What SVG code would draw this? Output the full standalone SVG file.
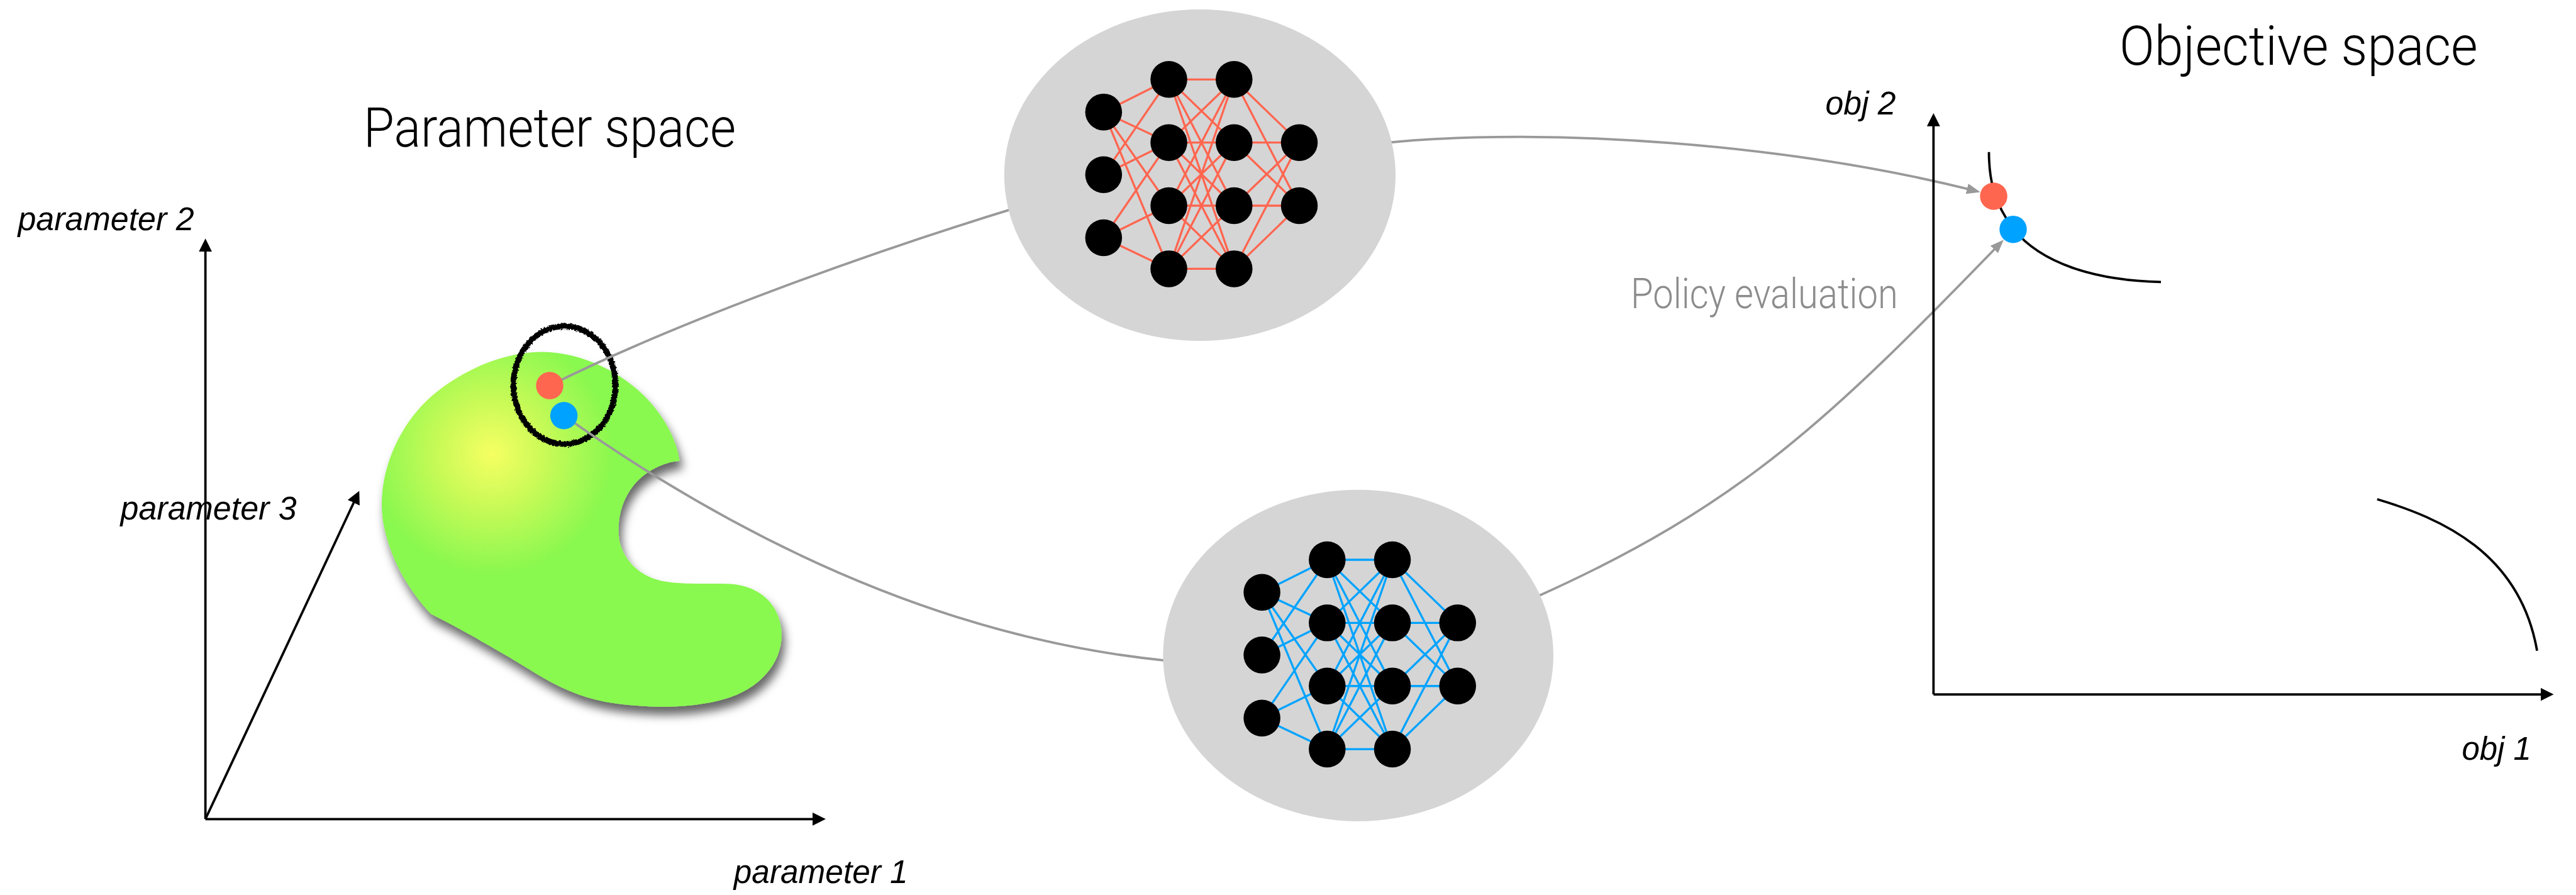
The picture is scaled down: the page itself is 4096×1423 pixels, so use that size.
<svg xmlns="http://www.w3.org/2000/svg" width="4096" height="1423" viewBox="0 0 4096 1423">
<style>
  .axis{fill:none;stroke:#000;stroke-width:4.5}
  .link{fill:none;stroke:#999;stroke-width:4.5}
  .pareto{fill:none;stroke:#000;stroke-width:4.5}
  .label{font-family:"Liberation Sans",Arial,sans-serif;font-style:italic;font-size:62px;fill:#000}
  .title{font-family:Roboto,"Liberation Sans",sans-serif;font-weight:300;font-size:104px;fill:#000}
  .note{font-family:Roboto,"Liberation Sans",sans-serif;font-weight:300;font-size:80px;fill:#8c8c8c}
  .pod{fill:#D5D5D5}
  .neuron{fill:#000;stroke:none}
  .wires{fill:none;stroke-width:4}
  .red{fill:#FF6650}
  .blue{fill:#00A2FF}
</style>
<defs>
  <marker id="head" viewBox="0 0 25 25" markerWidth="25" markerHeight="25" refX="5" refY="12.5" orient="auto" markerUnits="userSpaceOnUse">
    <path d="M0 0L25 12.5L0 25z" fill="#000"/>
  </marker>
  <marker id="ghead" viewBox="0 0 26 20" markerWidth="26" markerHeight="20" refX="13" refY="10" orient="auto" markerUnits="userSpaceOnUse">
    <path d="M0 0L26 10L0 20z" fill="#999"/>
  </marker>
  <radialGradient id="glow" gradientUnits="userSpaceOnUse" cx="935" cy="862" r="230">
    <stop offset="0" stop-color="#F6FF62"/>
    <stop offset="0.45" stop-color="#C8FA57"/>
    <stop offset="1" stop-color="#89F84F"/>
  </radialGradient>
  <filter id="lift" x="-15%" y="-15%" width="135%" height="140%">
    <feGaussianBlur in="SourceAlpha" stdDeviation="9"/>
    <feOffset dx="6" dy="16" result="blur"/>
    <feFlood flood-color="#000" flood-opacity="0.6"/>
    <feComposite in2="blur" operator="in" result="shade"/>
    <feMerge><feMergeNode in="shade"/><feMergeNode in="SourceGraphic"/></feMerge>
  </filter>
  <filter id="rough" x="-20%" y="-20%" width="140%" height="140%">
    <feTurbulence type="fractalNoise" baseFrequency="0.3" numOctaves="2" seed="3" result="noise"/>
    <feDisplacementMap in="SourceGraphic" in2="noise" scale="6" xChannelSelector="R" yChannelSelector="G"/>
  </filter>
  <!-- small 3-4-4-2 perceptron; wire colour comes from the referencing <use> -->
  <g id="mlp">
    <path class="wires" d="M2098 213L2222 151M2098 213L2222 271M2098 213L2222 391M2098 213L2222 511M2098 332L2222 151M2098 332L2222 271M2098 452L2222 271M2098 452L2222 391M2098 452L2222 511
      M2222 151L2346 151M2222 151L2346 271M2222 151L2346 391M2222 151L2346 511
      M2222 271L2346 151M2222 271L2346 271M2222 271L2346 391M2222 271L2346 511
      M2222 391L2346 151M2222 391L2346 271M2222 391L2346 391M2222 391L2346 511
      M2222 511L2346 151M2222 511L2346 271M2222 511L2346 391M2222 511L2346 511
      M2346 151L2470 271M2346 151L2470 391M2346 271L2470 271M2346 271L2470 391M2346 391L2470 271M2346 391L2470 391M2346 511L2470 271M2346 511L2470 391"/>
    <circle class="neuron" cx="2098" cy="213" r="35"/>
    <circle class="neuron" cx="2098" cy="332" r="35"/>
    <circle class="neuron" cx="2098" cy="452" r="35"/>
    <circle class="neuron" cx="2222" cy="151" r="35"/>
    <circle class="neuron" cx="2222" cy="271" r="35"/>
    <circle class="neuron" cx="2222" cy="391" r="35"/>
    <circle class="neuron" cx="2222" cy="511" r="35"/>
    <circle class="neuron" cx="2346" cy="151" r="35"/>
    <circle class="neuron" cx="2346" cy="271" r="35"/>
    <circle class="neuron" cx="2346" cy="391" r="35"/>
    <circle class="neuron" cx="2346" cy="511" r="35"/>
    <circle class="neuron" cx="2470" cy="271" r="35"/>
    <circle class="neuron" cx="2470" cy="391" r="35"/>
  </g>
</defs>

<rect width="4096" height="1423" fill="#fff"/>

<g transform="scale(0.83643)">

  <!-- parameter space axes -->
  <g id="param-axes">
    <path class="axis" d="M390.5 1557V473.5" marker-end="url(#head)"/>
    <path class="axis" d="M390.5 1557H1549.7" marker-end="url(#head)"/>
    <path class="axis" d="M390.5 1557L674.5 951.1" marker-end="url(#head)"/>
    <text class="label" x="34" y="437" textLength="335" lengthAdjust="spacingAndGlyphs">parameter 2</text>
    <text class="label" x="229" y="988" textLength="335" lengthAdjust="spacingAndGlyphs">parameter 3</text>
    <text class="label" x="1395" y="1678" textLength="331" lengthAdjust="spacingAndGlyphs">parameter 1</text>
    <text class="title" x="691" y="279" textLength="708" lengthAdjust="spacingAndGlyphs">Parameter space</text>
  </g>

  <!-- feasible region in parameter space -->
  <g id="param-region">
    <path filter="url(#lift)" fill="url(#glow)" d="M1292 876C1262 878 1226 896 1205 922C1182 950 1171 990 1178 1030C1188 1070 1220 1097 1262 1105C1300 1112 1345 1108 1390 1110C1445 1114 1484 1150 1486 1205C1486 1265 1440 1310 1380 1328C1310 1349 1220 1346 1150 1334C1100 1324 1060 1305 1020 1281C960 1243 880 1198 819 1167C775 1120 740 1060 728 990C715 900 760 800 830 745C890 698 960 670 1030 669C1110 670 1185 710 1232 760C1268 800 1287 840 1292 876Z"/>
  </g>

  <!-- hand-drawn ring around the two selected parameter points -->
  <g id="selection-ring">
    <ellipse cx="1073" cy="732" rx="97" ry="112" fill="none" stroke="#000" stroke-width="11" filter="url(#rough)"/>
  </g>

  <!-- connectors -->
  <g id="connectors">
    <path class="link" d="M1045 733C1295 608 1664 477 1922 398"/>
    <path class="link" d="M1072 790Q1652 1200 2220 1256"/>
    <path class="link" d="M2640 271C2946 241 3402 274 3752 362" marker-end="url(#ghead)"/>
    <path class="link" d="M2922 1134C3310 960 3479 796 3800 465" marker-end="url(#ghead)"/>
  </g>

  <!-- parameter points -->
  <g id="param-points">
    <circle class="red" cx="1045" cy="733" r="26"/>
    <circle class="blue" cx="1072" cy="790" r="26"/>
  </g>

  <!-- policy networks -->
  <g id="policy-red">
    <ellipse class="pod" cx="2281" cy="333" rx="372" ry="315"/>
    <use href="#mlp" stroke="#FF6650"/>
  </g>
  <g id="policy-blue">
    <ellipse class="pod" cx="2582" cy="1246" rx="371" ry="315"/>
    <use href="#mlp" stroke="#00A3FF" transform="translate(301 913)"/>
  </g>

  <text class="note" x="3100" y="586" textLength="508" lengthAdjust="spacingAndGlyphs">Policy evaluation</text>

  <!-- objective space -->
  <g id="objective-space">
    <path class="axis" d="M3675.6 1320V235" marker-end="url(#head)"/>
    <path class="axis" d="M3675.6 1320H4834.6" marker-end="url(#head)"/>
    <path class="pareto" d="M3781 289C3781 340 3790 385 3828 436C3880 500 3980 533 4108 536"/>
    <path class="pareto" d="M4519 949C4640 985 4790 1050 4823 1237"/>
    <circle class="red" cx="3790" cy="373" r="26"/>
    <circle class="blue" cx="3827" cy="436" r="26"/>
    <text class="label" x="3470" y="218" textLength="134" lengthAdjust="spacingAndGlyphs">obj 2</text>
    <text class="label" x="4680" y="1444" textLength="132" lengthAdjust="spacingAndGlyphs">obj 1</text>
    <text class="title" x="4029" y="123" textLength="681" lengthAdjust="spacingAndGlyphs">Objective space</text>
  </g>

</g>
</svg>
